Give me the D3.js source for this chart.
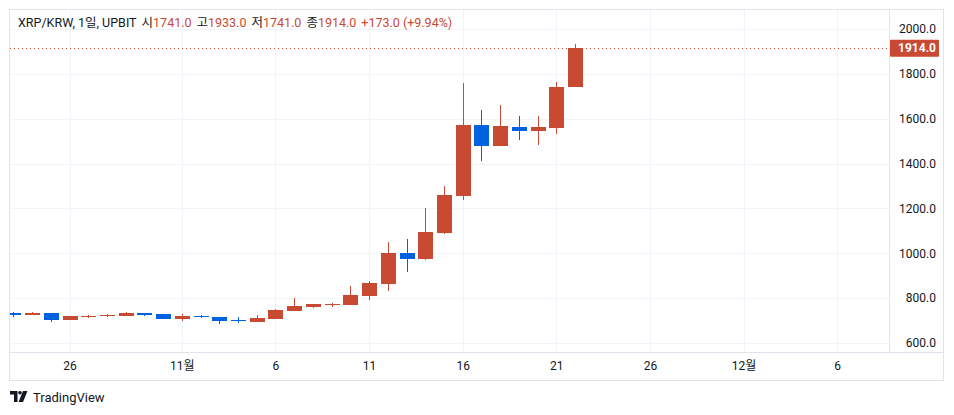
<!DOCTYPE html>
<html><head><meta charset="utf-8">
<script src="https://cdn.jsdelivr.net/npm/d3@7"></script>
<style>
body{margin:0;background:#fff;}
svg{display:block;font-family:Roboto,"Noto Sans CJK KR",sans-serif;}
</style></head>
<body><svg id="c" width="954" height="415"></svg>
<script>
const dates = ["2024-10-23","2024-10-24","2024-10-25","2024-10-26","2024-10-27","2024-10-28","2024-10-29","2024-10-30","2024-10-31","2024-11-01","2024-11-02","2024-11-03","2024-11-04","2024-11-05","2024-11-06","2024-11-07","2024-11-08","2024-11-09","2024-11-10","2024-11-11","2024-11-12","2024-11-13","2024-11-14","2024-11-15","2024-11-16","2024-11-17","2024-11-18","2024-11-19","2024-11-20","2024-11-21","2024-11-22"];
const opens  = [734,725,734,703,716,720,720,734,729,707,720,716,702,694,707,743,761,769,769,810,863,1001,975,1090,1255,1572,1478,1563,1545,1559,1741];
const highs  = [738,738,734,721,726,729,738,735,730,729,725,717,716,725,752,801,775,778,854,876,1050,1064,1200,1300,1760,1639,1661,1612,1612,1764,1933];
const lows   = [715,724,694,702,713,717,719,720,706,698,711,685,689,693,706,742,756,762,768,792,832,917,970,1088,1238,1411,1477,1505,1483,1532,1741];
const closes = [725,734,704,720,720,725,734,725,707,720,716,698,698,711,747,765,774,774,814,867,1001,975,1095,1260,1572,1478,1568,1545,1563,1741,1914];
const priceTicks = [600,800,1000,1200,1400,1600,1800,2000];
const timeTickDates = ["2024-10-26","2024-11-01","2024-11-06","2024-11-11","2024-11-16","2024-11-21","2024-11-26","2024-12-01","2024-12-06"];
const timeTickLabels = ["26","11월","6","11","16","21","26","12월","6"];
const lastPrice = 1914;

const UP="#c94a32", DOWN="#0062e0", TXT="#131722", GRID="#f0f3fa", BORDER="#e0e3eb";
const svg = d3.select("#c");
const pane = {l:10, r:889, t:10, b:352};
const pd = s => new Date(s+"T00:00:00Z");

const x = d3.scaleUtc().domain([pd("2024-10-26"), pd("2024-11-22")]).range([69.5, 575]);
const y = d3.scaleLinear().domain([600, 2000]).range([343, 29]);

svg.append("defs").append("clipPath").attr("id","pc").append("rect")
  .attr("x",pane.l).attr("y",pane.t).attr("width",pane.r-pane.l).attr("height",pane.b-pane.t);

// grid
const g = svg.append("g").attr("clip-path","url(#pc)");
g.selectAll(".hg").data(priceTicks).join("line")
  .attr("x1",pane.l).attr("x2",pane.r).attr("y1",d=>Math.round(y(d))+0.5).attr("y2",d=>Math.round(y(d))+0.5)
  .attr("stroke",GRID);
g.selectAll(".vg").data(timeTickDates).join("line")
  .attr("x1",d=>Math.round(x(pd(d)))+0.5).attr("x2",d=>Math.round(x(pd(d)))+0.5).attr("y1",pane.t).attr("y2",pane.b)
  .attr("stroke",GRID);

// last price line
g.append("line").attr("x1",pane.l).attr("x2",pane.r)
  .attr("y1",Math.round(y(lastPrice))+0.5).attr("y2",Math.round(y(lastPrice))+0.5)
  .attr("stroke",UP).attr("stroke-dasharray","1,3");

// candles
const data = dates.map((d,i)=>({d:pd(d),o:opens[i],h:highs[i],l:lows[i],c:closes[i]}));
const bw = 15;
const cg = g.selectAll(".cd").data(data).join("g");
cg.append("rect")
  .attr("x",d=>Math.round(x(d.d))).attr("width",1)
  .attr("y",d=>Math.round(y(d.h))).attr("height",d=>Math.round(y(d.l))-Math.round(y(d.h)))
  .attr("fill",d=>d.c>=d.o?UP:DOWN);
cg.append("rect")
  .attr("x",d=>Math.round(x(d.d))-7).attr("width",bw)
  .attr("y",d=>Math.round(y(Math.max(d.o,d.c))))
  .attr("height",d=>Math.max(1,Math.round(y(Math.min(d.o,d.c)))-Math.round(y(Math.max(d.o,d.c)))))
  .attr("fill",d=>d.c>=d.o?UP:DOWN);

// borders
svg.append("rect").attr("x",9.5).attr("y",9.5).attr("width",934).attr("height",371)
  .attr("fill","none").attr("stroke",BORDER);
svg.append("line").attr("x1",9.5).attr("x2",943.5).attr("y1",352.5).attr("y2",352.5).attr("stroke",BORDER);
svg.append("line").attr("x1",889.5).attr("x2",889.5).attr("y1",9.5).attr("y2",352.5).attr("stroke",BORDER);

// price axis
const ya = d3.axisRight(y).tickValues(priceTicks).tickFormat(d=>d.toFixed(1)).tickSize(0);
const yag = svg.append("g").attr("transform","translate(936,0)").call(ya);
yag.select(".domain").remove();
yag.selectAll("text").attr("x",0).attr("text-anchor","end").attr("fill",TXT).attr("font-size",12).attr("font-family","Roboto,sans-serif");

// last price label
const ly = y(lastPrice);
svg.append("rect").attr("x",890).attr("y",ly-8.5).attr("width",49).attr("height",17).attr("rx",1).attr("fill",UP);
svg.append("text").attr("x",936).attr("y",ly+4.2).attr("text-anchor","end").attr("fill","#fff")
  .attr("font-size",12).attr("font-weight","bold").text(lastPrice.toFixed(1));

// time axis
const xa = d3.axisBottom(x).tickValues(timeTickDates.map(pd)).tickFormat((d,i)=>timeTickLabels[i]).tickSize(0);
const xag = svg.append("g").attr("transform","translate(0,352)").call(xa);
xag.select(".domain").remove();
xag.selectAll("text").attr("y",9).attr("dy","0.71em").attr("fill",TXT).attr("font-size",12)
  .attr("font-family","Roboto,'Noto Sans CJK KR',sans-serif");

// header legend
const hdr = svg.append("text").attr("x",18).attr("y",27).attr("font-size",12.5).attr("fill",TXT);
const last = data[data.length-1];
const parts = [
  ["XRP/KRW, 1일, UPBIT", TXT, 0],
  ["시", TXT, 5],[last.o.toFixed(1), UP, 0],
  ["고", TXT, 5],[last.h.toFixed(1), UP, 0],
  ["저", TXT, 5],[last.l.toFixed(1), UP, 0],
  ["종", TXT, 5],[last.c.toFixed(1), UP, 0],
  ["+173.0 (+9.94%)", UP, 5]
];
parts.forEach(p=>hdr.append("tspan").attr("fill",p[1]).attr("dx",p[2]).text(p[0]));

// TradingView logo
const lg = svg.append("g").attr("transform","translate(10,391)");
lg.append("path").attr("d","M0 0H7.5V11H4V3.5H0Z").attr("fill",TXT);
lg.append("circle").attr("cx",10).attr("cy",1.8).attr("r",1.8).attr("fill",TXT);
lg.append("path").attr("d","M13 0H17.5L13 11H8.5Z").attr("fill",TXT);
svg.append("text").attr("x",33).attr("y",402).attr("font-size",13).attr("fill",TXT).text("TradingView");
</script>
</body></html>
